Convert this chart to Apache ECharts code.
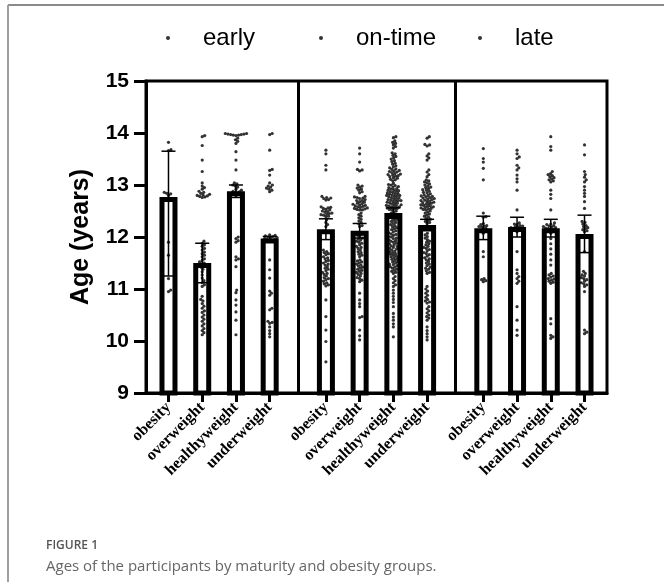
<!DOCTYPE html>
<html><head><meta charset="utf-8">
<script src="https://cdn.jsdelivr.net/npm/echarts@6/dist/echarts.min.js"></script>
<style>html,body{margin:0;padding:0;background:#fff}#c{width:664px;height:582px}</style>
</head><body><div id="c"></div>
<script>
// ---------- data ----------
const maturityGroups = ['early', 'on-time', 'late'];
const weightCategories = ['obesity', 'overweight', 'healthyweight', 'underweight'];
const yTicks = [9, 10, 11, 12, 13, 14, 15];

const earlyMeans  = [12.77, 11.50, 12.88, 11.97];
const onTimeMeans = [12.15, 12.12, 12.46, 12.23];
const lateMeans   = [12.17, 12.19, 12.17, 12.06];

const earlyErrLow   = [11.25, 11.12, 12.76, 11.93];
const earlyErrHigh  = [13.65, 11.88, 13.00, 12.01];
const onTimeErrLow  = [11.95, 11.98, 12.36, 12.12];
const onTimeErrHigh = [12.35, 12.26, 12.56, 12.34];
const lateErrLow    = [11.95, 12.00, 12.00, 11.70];
const lateErrHigh   = [12.40, 12.38, 12.34, 12.42];

const earlyObesity = [13.82,13.68,13.66,12.86,12.84,12.83,12.8,11.9,11.65,11.2,10.98,10.95];
const earlyOverweight = [13.95,13.93,13.76,13.48,13.26,13.04,12.98,12.95,12.92,12.88,12.86,12.84,12.82,12.81,12.8,12.79,12.78,12.77,12.76,11.92,11.88,11.85,11.82,11.78,11.75,11.71,11.68,11.65,11.62,11.58,11.55,11.52,11.5,11.48,11.45,11.42,11.38,11.33,11.27,11.21,11.16,11.12,11.08,11.05,10.86,10.8,10.77,10.72,10.67,10.63,10.58,10.55,10.5,10.46,10.42,10.38,10.33,10.29,10.24,10.2,10.16,10.12];
const earlyHealthy = [13.99,13.99,13.98,13.98,13.97,13.97,13.96,13.96,13.95,13.9,13.87,13.84,13.8,13.64,13.48,13.29,13.04,13.02,13.0,12.98,12.96,12.92,12.9,12.88,12.87,12.86,12.84,12.83,12.82,12.8,12.0,11.97,11.93,11.9,11.62,11.58,11.56,11.43,10.98,10.93,10.79,10.69,10.56,10.4,10.12];
const earlyUnderweight = [13.99,13.97,13.67,13.3,13.28,13.19,13.04,13.0,12.98,12.96,12.94,12.92,12.9,12.87,12.04,12.03,12.02,12.01,12.0,11.99,11.98,11.97,11.96,11.95,11.94,11.93,11.56,11.37,11.21,10.96,10.92,10.88,10.63,10.6,10.38,10.36,10.34,10.27,10.2,10.14,10.08];

const onTimeObesity = [13.67,13.6,13.38,13.29,12.78,12.76,12.75,12.74,12.72,12.71,12.58,12.57,12.56,12.55,12.53,12.52,12.5,12.49,12.48,12.46,12.45,12.44,12.43,12.42,12.4,12.39,12.33,12.28,12.24,12.2,11.75,11.72,11.7,11.68,11.66,11.62,11.6,11.58,11.55,11.53,11.5,11.48,11.46,11.43,11.4,11.38,11.35,11.32,11.3,11.28,11.25,11.22,11.2,11.18,11.15,11.12,11.1,11.08,11.06,10.79,10.47,10.21,9.99,9.6];
const onTimeOverweight = [13.71,13.6,13.44,13.3,13.29,13.27,13.0,12.98,12.96,12.94,12.92,12.9,12.87,12.85,12.78,12.77,12.76,12.75,12.74,12.72,12.7,12.7,12.68,12.67,12.65,12.64,12.63,12.62,12.61,12.6,12.59,12.58,12.57,12.56,12.55,12.54,12.53,12.52,12.52,12.46,12.43,12.4,12.37,12.34,12.31,12.28,12.25,12.22,12.2,12.07,12.05,12.03,12.0,11.98,11.96,11.94,11.92,11.9,11.88,11.85,11.82,11.8,11.78,11.75,11.72,11.7,11.67,11.65,11.62,11.56,11.54,11.52,11.5,11.48,11.46,11.44,11.42,11.4,11.38,11.36,11.34,11.32,11.3,11.28,11.25,11.22,11.2,11.17,11.14,10.92,10.79,10.72,10.66,10.47,10.45,10.21,10.1,10.02];
const onTimeHealthy = [13.93,13.91,13.85,13.82,13.8,13.77,13.74,13.71,13.62,13.6,13.57,13.55,13.52,13.5,13.47,13.45,13.42,13.4,13.37,13.35,
13.33,13.31,13.3,13.28,13.27,13.26,13.25,13.24,13.22,13.21,13.2,13.19,13.18,13.17,13.16,13.14,13.13,13.11,13.1,13.08,
13.03,13.01,13.0,12.99,12.97,12.96,12.95,12.93,12.92,12.91,12.9,12.89,12.88,12.87,12.86,12.85,12.84,12.83,12.82,12.81,
12.8,12.8,12.79,12.78,12.77,12.76,12.75,12.74,12.73,12.72,12.71,12.7,12.7,12.69,12.68,12.67,12.66,12.65,12.64,12.63,
12.62,12.61,12.6,12.6,12.59,12.58,12.57,12.56,12.55,12.54,12.53,12.52,12.5,12.48,12.46,12.44,12.42,12.4,12.38,12.36,
12.34,12.32,12.3,12.28,12.26,12.24,12.22,12.2,12.18,12.16,12.14,12.12,12.1,12.08,12.06,12.05,12.03,12.01,12.0,11.98,
11.97,11.95,11.93,11.92,11.9,11.88,11.87,11.85,11.83,11.82,11.8,11.78,11.77,11.75,11.73,11.72,11.7,11.68,11.67,11.65,
11.63,11.62,11.6,11.58,11.57,11.55,11.53,11.52,11.5,11.48,11.47,11.45,11.43,11.42,11.4,11.38,11.36,11.34,11.32,11.3,
11.24,11.2,11.16,11.12,11.08,11.05,10.98,10.92,10.86,10.8,10.74,10.66,10.53,10.46,10.4,10.33,10.27,10.08];
const onTimeUnderweight = [13.93,13.9,13.78,13.77,13.75,13.6,13.56,13.52,13.48,13.29,13.25,13.2,13.16,13.1,13.08,13.06,13.04,13.02,13.0,12.98,
12.96,12.95,12.93,12.91,12.9,12.88,12.86,12.85,12.83,12.81,12.8,12.79,12.78,12.77,12.76,12.75,12.74,12.73,12.72,12.71,
12.7,12.69,12.68,12.67,12.66,12.65,12.64,12.63,12.62,12.61,12.6,12.59,12.58,12.57,12.56,12.55,12.54,12.53,12.52,12.5,
12.48,12.46,12.44,12.42,12.4,12.38,12.36,12.34,12.32,12.3,12.28,12.26,12.07,12.04,12.01,11.98,11.95,11.92,11.9,11.87,
11.85,11.82,11.8,11.78,11.76,11.73,11.7,11.68,11.66,11.63,11.6,11.58,11.56,11.53,11.5,11.48,11.45,11.42,11.4,11.38,
11.35,11.32,11.3,11.05,11.0,10.96,10.92,10.88,10.84,10.8,10.77,10.75,10.73,10.66,10.62,10.58,10.54,10.5,10.47,10.44,
10.4,10.27,10.2,10.14,10.08,10.02];

const lateObesity = [13.7,13.51,13.44,13.32,13.1,12.46,12.39,12.38,12.26,12.24,12.22,12.21,12.2,12.19,12.17,12.15,12.07,11.72,11.62,11.2,11.18,11.16,11.14];
const lateOverweight = [13.67,13.6,13.54,13.51,13.38,13.33,13.29,13.19,13.12,13.06,12.9,12.52,12.27,12.25,12.24,12.22,12.21,12.2,12.19,12.18,12.17,12.16,12.15,12.14,12.1,11.72,11.37,11.3,11.24,11.2,11.15,11.11,10.66,10.4,10.21,10.11];
const lateHealthy = [13.93,13.74,13.67,13.26,13.22,13.2,13.18,13.16,13.14,13.12,13.1,13.08,13.06,12.9,12.82,12.74,12.52,12.27,12.25,12.24,12.22,12.21,12.2,12.19,12.18,12.17,12.16,12.15,12.14,12.07,11.97,11.87,11.77,11.67,11.56,11.46,11.3,11.27,11.25,11.23,11.2,11.19,11.17,11.15,11.13,11.11,10.43,10.33,10.11,10.08,10.05];
const lateUnderweight = [13.77,13.58,13.26,13.2,13.15,13.1,13.06,12.97,12.9,12.84,12.78,12.68,12.55,12.3,12.28,12.25,12.22,12.2,12.18,12.16,12.14,12.12,12.1,11.72,11.34,11.3,11.27,11.25,11.22,11.2,11.18,11.15,11.12,11.1,11.08,11.05,10.95,10.21,10.17,10.14];

// ---------- layout ----------
const meansByGroup = [earlyMeans, onTimeMeans, lateMeans];
const errLowByGroup = [earlyErrLow, onTimeErrLow, lateErrLow];
const errHighByGroup = [earlyErrHigh, onTimeErrHigh, lateErrHigh];
const pointsByGroup = [
  [earlyObesity, earlyOverweight, earlyHealthy, earlyUnderweight],
  [onTimeObesity, onTimeOverweight, onTimeHealthy, onTimeUnderweight],
  [lateObesity, lateOverweight, lateHealthy, lateUnderweight]
];

const GRID = {left: 146, top: 81, width: 461, height: 312};
const X_MIN = 0, X_MAX = 41;
const Y_MIN = yTicks[0], Y_MAX = yTicks[yTicks.length - 1];
const pxPerX = GRID.width / (X_MAX - X_MIN);
const pxPerY = GRID.height / (Y_MAX - Y_MIN);
const slotPos = (g, k) => 2 + g * 14 + k * 3;
const positions = [], labels = [];
maturityGroups.forEach((g, gi) => weightCategories.forEach((c, ci) => { positions.push(slotPos(gi, ci)); labels.push(c); }));
const dividers = [ (slotPos(0,3) + slotPos(1,0)) / 2, (slotPos(1,3) + slotPos(2,0)) / 2 ];

// beeswarm layout (horizontal offsets only, pixel space)
const DOT = 2.7;
function swarm(values, center) {
  const pts = values.map(v => ({v, py: v * pxPerY})).sort((a, b) => a.v - b.v);
  const placed = [];
  const out = [];
  pts.forEach(p => {
    const near = placed.filter(q => Math.abs(q.py - p.py) < DOT);
    const cands = [0];
    near.forEach(q => {
      const dx = Math.sqrt(DOT * DOT - (q.py - p.py) ** 2) + 0.01;
      cands.push(q.px + dx, q.px - dx);
    });
    cands.sort((a, b) => Math.abs(a) - Math.abs(b));
    let best = 0;
    for (const c of cands) {
      if (near.every(q => (q.px - c) ** 2 + (q.py - p.py) ** 2 >= DOT * DOT - 0.01)) { best = c; break; }
    }
    placed.push({px: best, py: p.py});
    out.push([center + best / pxPerX, p.v]);
  });
  return out;
}

const barData = [], errData = [];
const scatterSeries = maturityGroups.map((g, gi) => {
  let data = [];
  weightCategories.forEach((c, ci) => {
    const x = slotPos(gi, ci);
    barData.push([x, meansByGroup[gi][ci]]);
    errData.push([x, errLowByGroup[gi][ci], errHighByGroup[gi][ci]]);
    data = data.concat(swarm(pointsByGroup[gi][ci], x));
  });
  return {
    name: g, type: 'scatter', data, symbol: 'circle', symbolSize: 3.2,
    itemStyle: {color: '#000'}, z: 5, clip: false, silent: true
  };
});

const chart = echarts.init(document.getElementById('c'), null, {renderer: 'canvas'});
const legendLeft = [161, 314, 473];
chart.setOption({
  animation: false,
  backgroundColor: '#fff',
  title: {
    text: 'FIGURE 1',
    subtext: 'Ages of the participants by maturity and obesity groups.',
    left: 41, top: 535, itemGap: 7,
    textStyle: {fontFamily: 'Open Sans', fontSize: 12, fontWeight: 600, color: '#555'},
    subtextStyle: {fontFamily: 'Open Sans', fontSize: 15, color: '#666'}
  },
  legend: maturityGroups.map((g, i) => ({
    data: [g], left: legendLeft[i], top: 21, icon: 'circle', itemWidth: 4, itemHeight: 4,
    selectedMode: false,
    textStyle: {fontFamily: 'Liberation Sans', fontSize: 24, color: '#000', padding: [0, 0, 0, 28]}
  })),
  grid: {left: GRID.left, top: GRID.top, width: GRID.width, height: GRID.height,
         show: true, borderColor: '#000', borderWidth: 3, backgroundColor: 'transparent'},
  xAxis: {
    type: 'value', min: X_MIN, max: X_MAX, splitLine: {show: false},
    axisLine: {show: true, onZero: false, lineStyle: {color: '#000', width: 3}},
    axisTick: {show: true, customValues: positions, length: 9, lineStyle: {color: '#000', width: 3}},
    axisLabel: {
      customValues: positions, rotate: 45, margin: 12,
      formatter: v => labels[positions.indexOf(v)] || '',
      fontFamily: 'Liberation Serif', fontWeight: 'bold', fontSize: 16, color: '#000'
    }
  },
  yAxis: {
    type: 'value', min: Y_MIN, max: Y_MAX, interval: 1,
    name: 'Age (years)', nameLocation: 'middle', nameGap: 52,
    nameTextStyle: {fontFamily: 'Liberation Sans', fontWeight: 'bold', fontSize: 25, color: '#000'},
    splitLine: {show: false},
    axisLine: {show: true, lineStyle: {color: '#000', width: 3}},
    axisTick: {show: true, length: 12, lineStyle: {color: '#000', width: 3}},
    axisLabel: {fontFamily: 'Liberation Sans', fontWeight: 'bold', fontSize: 21, color: '#000', margin: 17}
  },
  series: [
    {
      type: 'bar', data: barData, barWidth: 18, clip: true, z: 2, silent: true,
      itemStyle: {color: '#fff', borderColor: '#000', borderWidth: 5},
      markLine: {
        silent: true, symbol: 'none', label: {show: false},
        lineStyle: {color: '#000', width: 3, type: 'solid'},
        data: dividers.map(d => ({xAxis: d}))
      }
    },
    {
      type: 'custom', data: errData, z: 3, silent: true,
      renderItem: (params, api) => {
        const x = api.value(0);
        const lo = api.coord([x, api.value(1)]);
        const hi = api.coord([x, api.value(2)]);
        const hw = 7;
        const st = {stroke: '#000', lineWidth: 1.5};
        return {type: 'group', children: [
          {type: 'line', shape: {x1: lo[0], y1: lo[1], x2: hi[0], y2: hi[1]}, style: st},
          {type: 'line', shape: {x1: hi[0] - hw, y1: hi[1], x2: hi[0] + hw, y2: hi[1]}, style: st},
          {type: 'line', shape: {x1: lo[0] - hw, y1: lo[1], x2: lo[0] + hw, y2: lo[1]}, style: st}
        ]};
      }
    }
  ].concat(scatterSeries),
  graphic: [
    {type: 'line', shape: {x1: 8, y1: 5, x2: 664, y2: 5}, style: {stroke: '#8a8a8a', lineWidth: 2}},
    {type: 'line', shape: {x1: 8, y1: 5, x2: 8, y2: 582}, style: {stroke: '#a0a0a0', lineWidth: 2}}
  ]
});
</script>
</body></html>
